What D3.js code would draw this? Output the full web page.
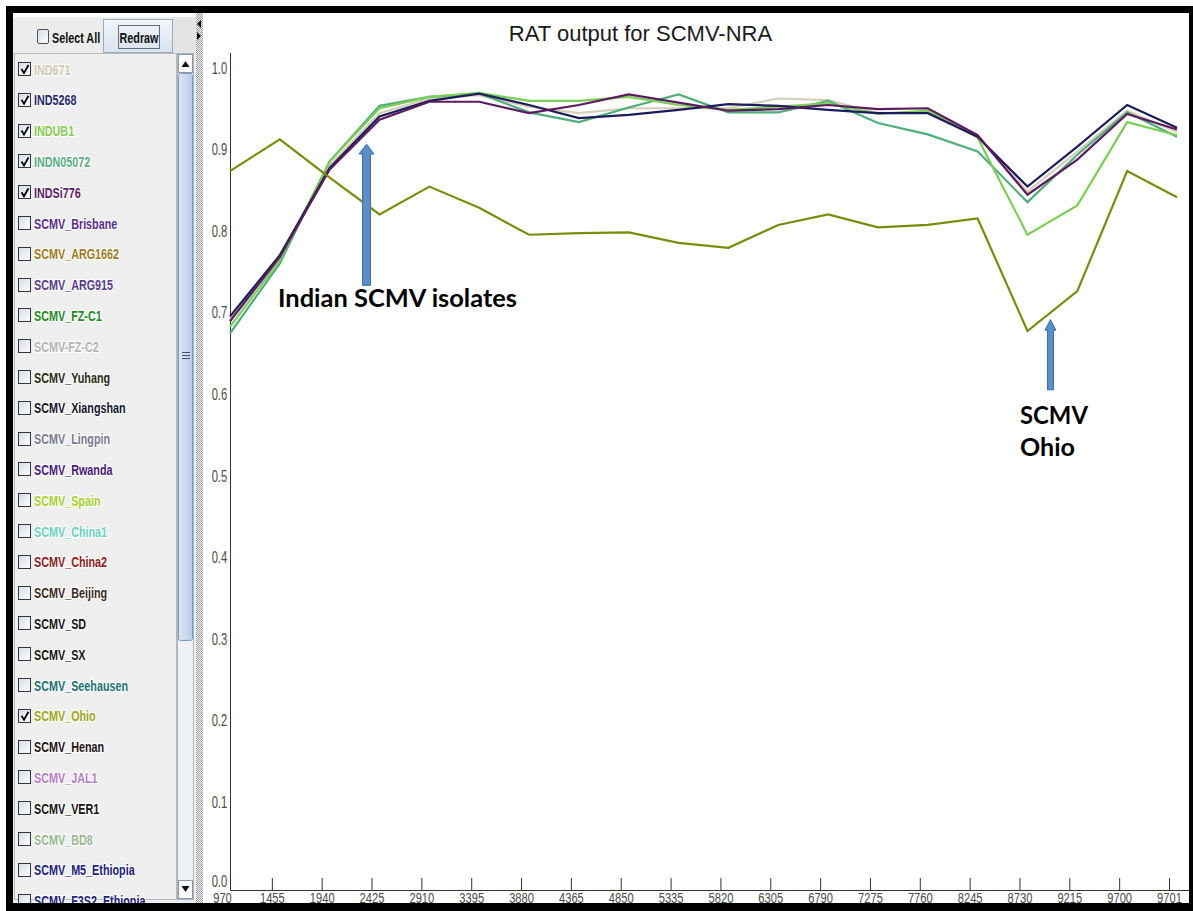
<!DOCTYPE html>
<html><head><meta charset="utf-8">
<script src="https://cdn.jsdelivr.net/npm/d3@7"></script>
<style>
html,body{margin:0;padding:0;background:#fff;}
svg{display:block;}
.narrow{font-family:"Liberation Sans",Arial,sans-serif;}
</style></head><body>
<svg id="c" width="1193" height="911"></svg>
<script>
// ---------------- DATA ----------------
const positions = ["970","1455","1940","2425","2910","3395","3880","4365","4850","5335","5820","6305","6790","7275","7760","8245","8730","9215","9700","9701"];
const yTicks = [0.0,0.1,0.2,0.3,0.4,0.5,0.6,0.7,0.8,0.9,1.0];

const IND671    = [0.700,0.775,0.888,0.952,0.970,0.974,0.960,0.952,0.958,0.958,0.958,0.970,0.968,0.952,0.954,0.923,0.856,0.905,0.955,0.929];
const INDN05072 = [0.682,0.768,0.893,0.961,0.972,0.976,0.953,0.941,0.959,0.975,0.953,0.953,0.967,0.940,0.926,0.905,0.843,0.901,0.953,0.923];
const INDUB1    = [0.690,0.772,0.893,0.958,0.972,0.977,0.967,0.967,0.972,0.962,0.956,0.960,0.964,0.951,0.955,0.922,0.803,0.839,0.941,0.925];
const IND5268   = [0.703,0.778,0.885,0.948,0.967,0.976,0.962,0.946,0.950,0.956,0.963,0.961,0.956,0.952,0.952,0.923,0.862,0.911,0.962,0.934];
const INDSi776  = [0.697,0.776,0.883,0.944,0.966,0.966,0.952,0.962,0.975,0.965,0.955,0.957,0.962,0.957,0.958,0.925,0.852,0.895,0.951,0.932];
const SCMV_Ohio = [0.881,0.920,0.873,0.828,0.862,0.836,0.803,0.805,0.806,0.793,0.787,0.815,0.828,0.812,0.815,0.823,0.685,0.734,0.881,0.849];

const seriesNames  = ["IND671","INDN05072","INDUB1","IND5268","INDSi776","SCMV_Ohio"];
const seriesValues = [IND671, INDN05072, INDUB1, IND5268, INDSi776, SCMV_Ohio];
const seriesColors = ["#d3cfb8","#4fae7a","#7ccf55","#1c1c5c","#5b1b5e","#7a8c0a"];

const legendNames = ["IND671","IND5268","INDUB1","INDN05072","INDSi776","SCMV_Brisbane","SCMV_ARG1662","SCMV_ARG915","SCMV_FZ-C1","SCMV-FZ-C2","SCMV_Yuhang","SCMV_Xiangshan","SCMV_Lingpin","SCMV_Rwanda","SCMV_Spain","SCMV_China1","SCMV_China2","SCMV_Beijing","SCMV_SD","SCMV_SX","SCMV_Seehausen","SCMV_Ohio","SCMV_Henan","SCMV_JAL1","SCMV_VER1","SCMV_BD8","SCMV_M5_Ethiopia","SCMV_F3S2_Ethiopia"];
const legendColors = ["#cdc8b0","#27286e","#86cc55","#5aae85","#5c2068","#5b2c8f","#9c7d22","#583c8c","#1c8c1c","#b4b4b4","#2a2a12","#15152e","#7a7a90","#4a1a78","#a6d22a","#6ad2c4","#8c2222","#3a2a1c","#141414","#141414","#227272","#98a818","#241414","#b77cc8","#141414","#98b890","#22227c","#22227c"];
const legendChecked = [true,true,true,true,true,false,false,false,false,false,false,false,false,false,false,false,false,false,false,false,false,true,false,false,false,false,false,false];

const titleText = "RAT output for SCMV-NRA";
const annotations = [
  {lines:["Indian SCMV isolates"], cat:"2425", dx:-13, tip:0.914, headBase:0.902, base:0.741, shaftW:8, headW:15, tx:278, ty:[307], tlen:[239]},
  {lines:["SCMV","Ohio"], cat:"8730", dx:23, tip:0.699, headBase:0.686, base:0.613, shaftW:6, headW:11, tx:1020, ty:[424,456], tlen:[68,55]}
];

// ---------------- LAYOUT ----------------
const svg = d3.select("#c");
const W = 1193, H = 911;
const plotLeft = 230, plotRight = 1177, axisY = 890, yTopVal = 74, axisTop = 53, plotEdge = 1189;
const tickShift = -8;
const legendSX = 0.72, axisSX = 0.70;

const defs = svg.append("defs");
const pat = defs.append("pattern").attr("id","dots").attr("width",2).attr("height",2).attr("patternUnits","userSpaceOnUse");
pat.append("rect").attr("width",2).attr("height",2).attr("fill","#fafafa");
pat.append("rect").attr("width",1).attr("height",1).attr("fill","#9a9a9a");
pat.append("rect").attr("x",1).attr("y",1).attr("width",1).attr("height",1).attr("fill","#9a9a9a");
const gBtn = defs.append("linearGradient").attr("id","btn").attr("x1",0).attr("y1",0).attr("x2",0).attr("y2",1);
gBtn.append("stop").attr("offset","0").attr("stop-color","#f3f6fa");
gBtn.append("stop").attr("offset","1").attr("stop-color","#d9e3ee");
const gCb = defs.append("linearGradient").attr("id","cb").attr("x1",0).attr("y1",0).attr("x2",1).attr("y2",1);
gCb.append("stop").attr("offset","0").attr("stop-color","#d4dbe6");
gCb.append("stop").attr("offset","1").attr("stop-color","#ffffff");
const gThumb = defs.append("linearGradient").attr("id","thumb").attr("x1",0).attr("y1",0).attr("x2",1).attr("y2",0);
gThumb.append("stop").attr("offset","0").attr("stop-color","#dbe6f3");
gThumb.append("stop").attr("offset","1").attr("stop-color","#b9cce3");

svg.append("rect").attr("width",W).attr("height",H).attr("fill","#fff");

// ---- left panel ----
svg.append("rect").attr("x",13).attr("y",17).attr("width",183).attr("height",886).attr("fill","#eeeeee");
svg.append("rect").attr("x",13).attr("y",17).attr("width",183).attr("height",36).attr("fill","#ececec");
svg.append("rect").attr("x",173).attr("y",17).attr("width",23).attr("height",36).attr("fill","#e4e4e4");
svg.append("rect").attr("x",103.5).attr("y",19.5).attr("width",69).attr("height",33).attr("fill","url(#btn)").attr("stroke","#9aa8ba");
svg.append("rect").attr("x",118.5).attr("y",25.5).attr("width",41).attr("height",23).attr("fill","none").attr("stroke","#5f6f86").attr("stroke-width",1);
svg.append("text").attr("class","narrow").attr("text-anchor","middle")
  .attr("transform",`translate(139,43) scale(${legendSX},1)`)
  .attr("font-size",15).attr("font-weight","bold").attr("fill","#111").text("Redraw");
svg.append("rect").attr("x",37.5).attr("y",29.5).attr("width",11).attr("height",14).attr("rx",1.5).attr("fill","url(#cb)").attr("stroke","#4a4f58");
svg.append("text").attr("class","narrow")
  .attr("transform",`translate(52,43) scale(${legendSX},1)`)
  .attr("font-size",15).attr("font-weight","bold").attr("fill","#111").text("Select All");

// list box
svg.append("rect").attr("x",14.5).attr("y",53.5).attr("width",162).attr("height",846).attr("fill","#efefef").attr("stroke","#b9b9b9");
// scrollbar
svg.append("rect").attr("x",177.5).attr("y",53.5).attr("width",16).attr("height",846).attr("fill","#eef2f7").attr("stroke","#a9b4c2");
svg.append("rect").attr("x",178.5).attr("y",54.5).attr("width",14).attr("height",18).attr("fill","#fbfbfb").attr("stroke","#8f9aa8");
svg.append("path").attr("d","M181.5,67 L189.5,67 L185.5,61 Z").attr("fill","#111");
svg.append("rect").attr("x",178.5).attr("y",73.5).attr("width",14).attr("height",567).attr("rx",2).attr("fill","url(#thumb)").attr("stroke","#7f9cc0");
[352,355,358].forEach(v=>svg.append("line").attr("x1",182).attr("x2",190).attr("y1",v+0.5).attr("y2",v+0.5).attr("stroke","#40506a"));
svg.append("rect").attr("x",178.5).attr("y",880.5).attr("width",14).attr("height",18).attr("fill","#fbfbfb").attr("stroke","#8f9aa8");
svg.append("path").attr("d","M181.5,886 L189.5,886 L185.5,892 Z").attr("fill","#111");

// legend items
const itemY = d3.scaleLinear().domain([0,1]).range([69,69+30.8]);
const items = svg.append("g");
legendNames.forEach((name,i)=>{
  const cy = itemY(i);
  const g = items.append("g");
  g.append("rect").attr("x",18.5).attr("y",Math.round(cy-7)+0.5).attr("width",12).attr("height",13)
    .attr("fill","url(#cb)").attr("stroke","#33363c");
  if (legendChecked[i]) {
    g.append("path").attr("d",`M21.5,${cy} L24,${cy+4} L28.5,${cy-4}`).attr("fill","none").attr("stroke","#000").attr("stroke-width",1.8);
  }
  g.append("text").attr("class","narrow")
    .attr("transform",`translate(34,${cy+5.5}) scale(${legendSX},1)`)
    .attr("font-size",15).attr("font-weight","bold")
    .attr("fill",legendColors[i]).attr("stroke","#ffffff").attr("stroke-width",2.5)
    .attr("stroke-opacity",0.85).attr("paint-order","stroke").attr("stroke-linejoin","round")
    .text(name);
});

// separator
svg.append("rect").attr("x",196).attr("y",13).attr("width",7).attr("height",890).attr("fill","url(#dots)");
svg.append("path").attr("d","M197,24 L201,20 L201,28 Z").attr("fill","#111");
svg.append("path").attr("d","M197,32 L201,36 L197,40 Z").attr("fill","#111");

// ---- chart ----
svg.append("rect").attr("x",203).attr("y",13).attr("width",plotEdge-203).attr("height",890).attr("fill","#fff");

const x = d3.scalePoint().domain(positions).range([plotLeft, plotRight]);
const y = d3.scaleLinear().domain([0,1]).range([axisY, yTopVal]);

svg.append("text").attr("x",640.5).attr("y",41).attr("text-anchor","middle")
  .attr("font-family","'Liberation Sans',Arial,sans-serif").attr("font-size",22).attr("fill","#1a1a1a")
  .text(titleText);

// y axis
const yAxis = svg.append("g").attr("transform",`translate(${plotLeft},0)`)
  .call(d3.axisLeft(y).tickValues(yTicks).tickSize(0).tickPadding(3).tickFormat(d3.format(".1f")));
yAxis.select(".domain").remove();
yAxis.selectAll("text").attr("class","narrow").attr("font-size",16).attr("fill","#4a4a4a")
  .attr("dy",null).attr("y",d => d === 0 ? -4 : -1).attr("x",-4).attr("transform",`scale(${axisSX},1)`);
svg.append("line").attr("x1",plotLeft+0.5).attr("x2",plotLeft+0.5).attr("y1",axisTop).attr("y2",axisY).attr("stroke","#333");

// x axis
const xAxis = svg.append("g").attr("transform",`translate(0,${axisY})`)
  .call(d3.axisBottom(x).tickSizeInner(-12).tickSizeOuter(0).tickPadding(0));
xAxis.select(".domain").remove();
xAxis.selectAll(".tick").attr("transform", d => `translate(${x(d)+tickShift+0.5},0)`);
xAxis.selectAll(".tick line").attr("stroke","#333").filter((d,i)=>i===0).remove();
xAxis.selectAll("text").attr("class","narrow").attr("font-size",15.5).attr("fill","#4a4a4a")
  .attr("dy",null).attr("y",13).attr("transform",`scale(0.72,1)`);
svg.append("line").attr("x1",plotLeft).attr("x2",plotEdge).attr("y1",axisY+0.5).attr("y2",axisY+0.5).attr("stroke","#333");

// lines
const line = d3.line().x((d,i)=>x(positions[i])).y(d=>y(d));
svg.append("g").selectAll("path").data(seriesValues).join("path")
  .attr("d", line).attr("fill","none")
  .attr("stroke",(d,i)=>seriesColors[i]).attr("stroke-width",2.2).attr("stroke-linejoin","miter");

// annotations
annotations.forEach(a=>{
  const cx = x(a.cat)+a.dx, t=y(a.tip), hb=y(a.headBase), b=y(a.base), sw=a.shaftW/2, hw=a.headW/2;
  svg.append("path")
    .attr("d",`M${cx},${t} L${cx+hw},${hb} L${cx+sw},${hb} L${cx+sw},${b} L${cx-sw},${b} L${cx-sw},${hb} L${cx-hw},${hb} Z`)
    .attr("fill","#5b8ec9").attr("stroke","#3d6ea3").attr("stroke-width",1);
  a.lines.forEach((s,k)=>{
    svg.append("text").attr("x",a.tx).attr("y",a.ty[k])
      .attr("font-family","Lato,'Open Sans',sans-serif").attr("font-weight","bold").attr("font-size",25)
      .attr("textLength",a.tlen[k]).attr("lengthAdjust","spacingAndGlyphs")
      .attr("fill","#000").text(s);
  });
});

// outer black frame
svg.append("rect").attr("x",6).attr("y",6).attr("width",W-6).attr("height",7).attr("fill","#000");
svg.append("rect").attr("x",6).attr("y",6).attr("width",7).attr("height",H-6).attr("fill","#000");
svg.append("rect").attr("x",plotEdge).attr("y",6).attr("width",W-plotEdge).attr("height",H-6).attr("fill","#000");
svg.append("rect").attr("x",6).attr("y",903).attr("width",W-6).attr("height",H-903).attr("fill","#000");
</script>
</body></html>
